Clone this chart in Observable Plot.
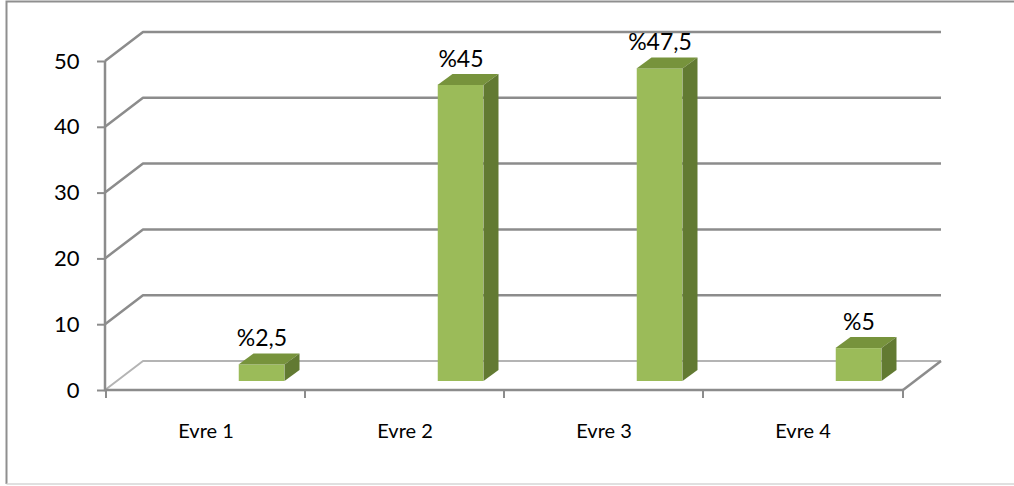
<!DOCTYPE html>
<html>
<head>
<meta charset="utf-8">
<script src="https://cdn.jsdelivr.net/npm/d3@7"></script>
<script src="https://cdn.jsdelivr.net/npm/@observablehq/plot@0.6"></script>
<style>
  html, body { margin: 0; padding: 0; background: #fff; }
  #chart svg { display: block; }
</style>
</head>
<body>
<div id="chart"></div>
<script>
// Share of patients by stage
const categories = ["Evre 1", "Evre 2", "Evre 3", "Evre 4"];
const values = [2.5, 45, 47.5, 5];
const yTicks = [0, 10, 20, 30, 40, 50];

const data = categories.map((evre, i) => ({evre, value: values[i]}));
const pct = v => "%" + String(v).replace(".", ",");

// Layout and 3D look (pixels)
const W = 1014, H = 486;
const M = {top: 61, right: 111, bottom: 96, left: 105};
const BANDW = (W - M.left - M.right) / categories.length;
const WALL = {dx: 38, dy: -29};                            // depth of back wall / floor
const BAR = {shift: 56, lift: -9, width: 46, dx: 15, dy: -11}; // column placement and depth
const GRID = "#8c8c8c";
const FRONT = "#9bbb59", TOP = "#77933c", SIDE = "#627a32";

const NS = "http://www.w3.org/2000/svg";
function el(name, attrs) {
  const e = document.createElementNS(NS, name);
  for (const [k, v] of Object.entries(attrs)) e.setAttribute(k, v);
  return e;
}

// Outer border, back wall gridlines, floor and axis lines
function walls(index, scales, values, dims) {
  const {x, y} = scales;
  const g = el("g", {fill: "none"});
  const x0 = dims.marginLeft, x1 = dims.width - dims.marginRight;
  // outer border
  g.appendChild(el("path", {d: `M${dims.width},1.5H6.5V484`, stroke: "#8f8f8f", "stroke-width": 2}));
  g.appendChild(el("path", {d: `M6.5,484H${dims.width}`, stroke: "#d6d6d6", "stroke-width": 1.5}));
  // gridlines on the back wall with their diagonal returns
  for (const v of yTicks) {
    const py = y(v);
    g.appendChild(el("path", {
      d: `M${x0},${py}L${x0 + WALL.dx},${py + WALL.dy}H${x1 + WALL.dx}`,
      stroke: v === 0 ? "#b4b4b4" : GRID, "stroke-width": v === 0 ? 2 : 2.5,
      "stroke-linejoin": "round"
    }));
  }
  const py0 = y(0);
  // floor right edge
  g.appendChild(el("path", {d: `M${x1},${py0}L${x1 + WALL.dx},${py0 + WALL.dy}`, stroke: GRID, "stroke-width": 2.5}));
  // value axis and category axis lines
  g.appendChild(el("path", {d: `M${x0},${y(50)}V${py0}H${x1}`, stroke: GRID, "stroke-width": 2.5}));
  // category ticks on the band boundaries
  const edges = categories.map(c => x(c)).concat([x1]);
  for (const bx of edges) {
    g.appendChild(el("path", {d: `M${bx},${py0}v8`, stroke: GRID, "stroke-width": 2}));
  }
  return g;
}

// Top and right faces of each column
function extrusions(index, scales) {
  const {x, y} = scales;
  const bw = x.bandwidth ? x.bandwidth() : BANDW;
  const g = el("g", {stroke: "none"});
  for (const d of data) {
    const cx = x(d.evre) + bw / 2 + BAR.shift;
    const xl = cx - BAR.width / 2, xr = cx + BAR.width / 2;
    const yt = y(d.value) + BAR.lift, yb = y(0) + BAR.lift;
    g.appendChild(el("path", {
      d: `M${xl},${yt}L${xl + BAR.dx},${yt + BAR.dy}H${xr + BAR.dx}L${xr},${yt}Z`, fill: TOP
    }));
    g.appendChild(el("path", {
      d: `M${xr},${yt}L${xr + BAR.dx},${yt + BAR.dy}V${yb + BAR.dy}L${xr},${yb}Z`, fill: SIDE
    }));
  }
  return g;
}

const chart = Plot.plot({
  width: W,
  height: H,
  marginTop: M.top,
  marginRight: M.right,
  marginBottom: M.bottom,
  marginLeft: M.left,
  style: {fontFamily: "Lato, 'Open Sans', sans-serif", background: "#fff", overflow: "visible"},
  x: {type: "band", domain: categories, padding: 0},
  y: {type: "linear", domain: [0, 50]},
  marks: [
    walls,
    Plot.barY(data, {
      x: "evre", y: "value", fill: FRONT,
      insetLeft: (BANDW - BAR.width) / 2, insetRight: (BANDW - BAR.width) / 2,
      dx: BAR.shift, dy: BAR.lift
    }),
    extrusions,
    Plot.axisY({ticks: yTicks, tickSize: 8, tickPadding: 18, fontSize: 22, stroke: GRID, strokeWidth: 2, fill: "#000", label: null}),
    Plot.axisX({tickSize: 0, tickPadding: 33, fontSize: 20, fill: "#000", label: null}),
    Plot.text(data, {
      x: "evre", y: "value", text: d => pct(d.value),
      dx: BAR.shift, dy: -35, fontSize: 23, fill: "#000"
    })
  ]
});

document.getElementById("chart").appendChild(chart);
</script>
</body>
</html>
